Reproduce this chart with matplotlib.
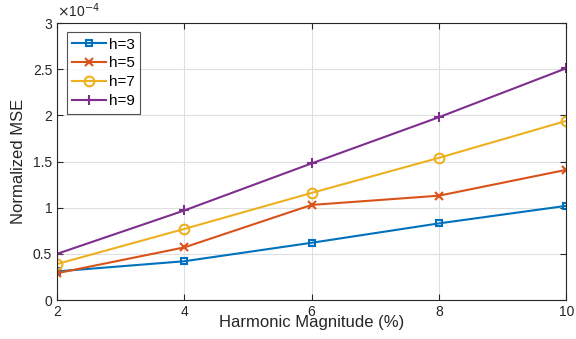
import matplotlib
matplotlib.use("Agg")
import matplotlib.pyplot as plt

plt.rcParams['font.family'] = ['Liberation Sans', 'DejaVu Sans']

x = [2, 4, 6, 8, 10]
h3 = [0.31, 0.42, 0.62, 0.83, 1.02]
h5 = [0.29, 0.57, 1.03, 1.13, 1.41]
h7 = [0.39, 0.77, 1.16, 1.54, 1.94]
h9 = [0.50, 0.97, 1.48, 1.98, 2.51]
labels = ['h=3', 'h=5', 'h=7', 'h=9']
colors = ['#0072BD', '#D95319', '#EDB120', '#7E2F8E']
markers = ['s', 'x', 'o', '+']
msizes = [5, 5.5, 7, 7.5]

fig = plt.figure(figsize=(5.76, 3.39), dpi=100)
ax = fig.add_axes([0.099, 0.115, 0.884, 0.817])

for y, lab, c, m, ms in zip([h3, h5, h7, h9], labels, colors, markers, msizes):
    ax.plot(x, y, color=c, marker=m, markersize=ms, markerfacecolor='none',
            markeredgewidth=1.5, linewidth=1.5, label=lab)

ax.set_xlim(2, 10)
ax.set_ylim(0, 3)
ax.set_xticks([2, 4, 6, 8, 10])
ax.set_yticks([0, 0.5, 1, 1.5, 2, 2.5, 3])
ax.set_yticklabels(['0', '0.5', '1', '1.5', '2', '2.5', '3'])
ax.grid(True, color='#DFDFDF', linewidth=0.8)
ax.set_axisbelow(True)
ax.tick_params(direction='in', length=4, labelsize=10, colors='#262626', width=0.8,
               top=True, right=True)
for s in ax.spines.values():
    s.set_color('#262626')
    s.set_linewidth(0.8)

ax.set_xlabel('Harmonic Magnitude (%)', fontsize=12, color='#262626', labelpad=-3)
ax.set_ylabel('Normalized MSE', fontsize=12, color='#262626', labelpad=5)
ax.text(0.0, 1.01, r'$\times$10$^{-4}$', transform=ax.transAxes, fontsize=10,
        color='#262626', ha='left', va='bottom')

leg = ax.legend(loc='upper left', fontsize=11, frameon=True, fancybox=False,
                edgecolor='#262626', handlelength=2.2, handletextpad=0.2,
                borderpad=0.35, labelspacing=0.32, borderaxespad=0,
                bbox_to_anchor=(0.0196, 0.967))
leg.get_frame().set_linewidth(0.8)

fig.savefig('out.png', dpi=100)
